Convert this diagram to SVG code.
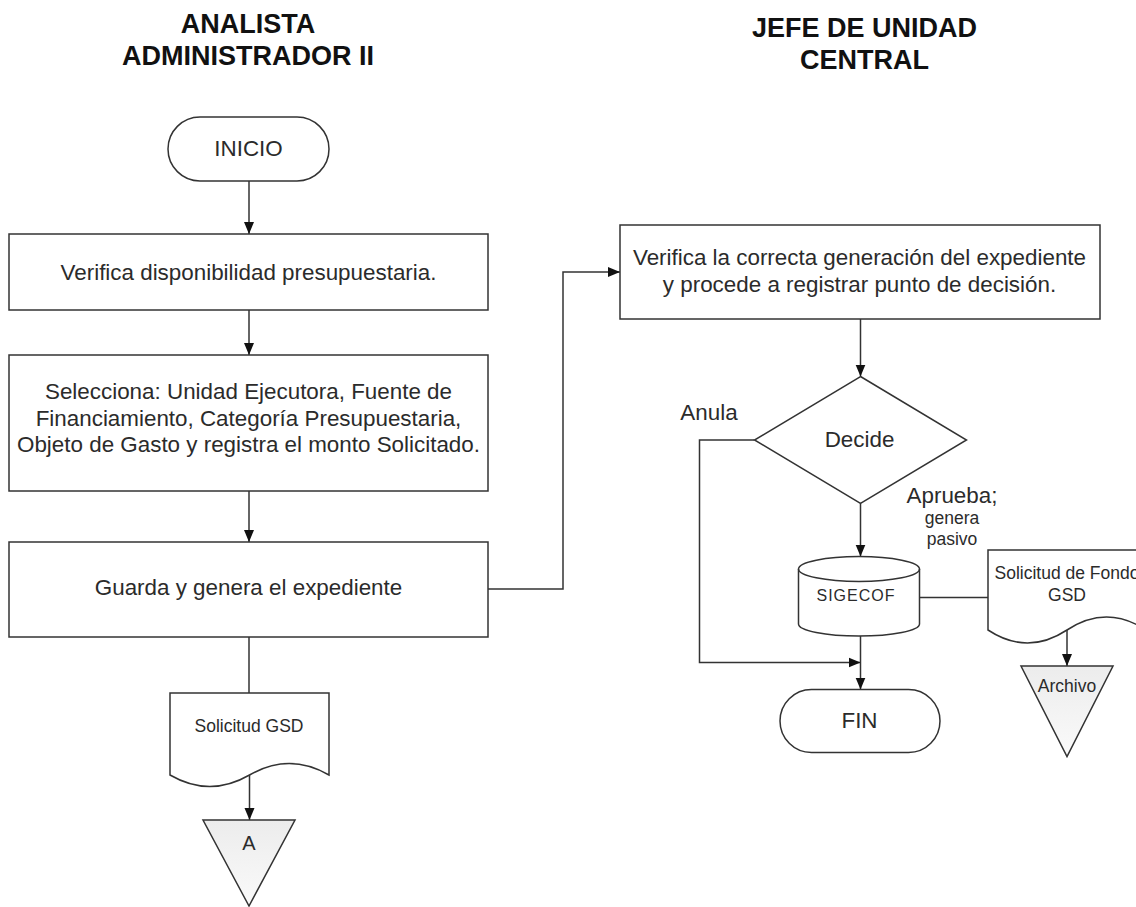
<svg xmlns="http://www.w3.org/2000/svg" width="1136" height="907" viewBox="0 0 1136 907">
<style>
.t{font-family:"Liberation Sans",Arial,sans-serif;fill:#2b2b2b;text-anchor:middle}
.title{font-size:27px;font-weight:bold;fill:#111}
.m{font-size:22.4px}
.s{font-size:17.5px}
.shape{fill:#fff;stroke:#333;stroke-width:1.5}
.tri{fill:url(#g);stroke:#333;stroke-width:1.5}
.c{fill:none;stroke:#333;stroke-width:1.5}
</style>
<defs>
<linearGradient id="g" x1="0" y1="0" x2="0" y2="1"><stop offset="0" stop-color="#ececec"/><stop offset="1" stop-color="#fafafa"/></linearGradient>
<marker id="ah" markerUnits="userSpaceOnUse" markerWidth="12" markerHeight="12" viewBox="0 0 12 10" refX="12" refY="5" orient="auto"><path d="M0,0 L12,5 L0,10 z" fill="#111"/></marker>
</defs>
<rect width="1136" height="907" fill="#fff"/>
<g id="titles">
<text class="t title" x="248" y="33">ANALISTA</text>
<text class="t title" x="248" y="65">ADMINISTRADOR II</text>
<text class="t title" x="864.5" y="37">JEFE DE UNIDAD</text>
<text class="t title" x="864.5" y="69">CENTRAL</text>
</g>
<g id="connectors">
<line class="c" x1="249" y1="181" x2="249" y2="234" marker-end="url(#ah)"/>
<line class="c" x1="249" y1="310" x2="249" y2="355" marker-end="url(#ah)"/>
<line class="c" x1="249" y1="491" x2="249" y2="542" marker-end="url(#ah)"/>
<polyline class="c" points="488,589 563,589 563,272 620,272" marker-end="url(#ah)"/>
<line class="c" x1="249" y1="637" x2="249" y2="693"/>
<line class="c" x1="249.5" y1="775" x2="249.5" y2="820" marker-end="url(#ah)"/>
<line class="c" x1="860.5" y1="319" x2="860.5" y2="376.5" marker-end="url(#ah)"/>
<line class="c" x1="860.5" y1="503.5" x2="860.5" y2="556.5" marker-end="url(#ah)"/>
<polyline class="c" points="754.5,440 699.5,440 699.5,662.5 860.5,662.5" marker-end="url(#ah)"/>
<line class="c" x1="860.5" y1="636" x2="860.5" y2="689.5" marker-end="url(#ah)"/>
<line class="c" x1="919.5" y1="597.5" x2="988" y2="597.5"/>
<line class="c" x1="1067" y1="630" x2="1067" y2="666" marker-end="url(#ah)"/>
<text class="t m" x="709" y="419.5">Anula</text>
<text class="t m" x="952" y="502.5">Aprueba;</text>
<text class="t s" x="952" y="524">genera</text>
<text class="t s" x="952" y="545">pasivo</text>
</g>
<g id="inicio">
<rect class="shape" x="168" y="117" width="161" height="64" rx="32" ry="32"/>
<text class="t m" x="248.5" y="155.5">INICIO</text>
</g>
<g id="verifica-disponibilidad">
<rect class="shape" x="9" y="234" width="479" height="76"/>
<text class="t m" x="248.5" y="279.5">Verifica disponibilidad presupuestaria.</text>
</g>
<g id="selecciona">
<rect class="shape" x="9" y="355" width="479" height="136"/>
<text class="t m" x="248.5" y="399">Selecciona: Unidad Ejecutora, Fuente de</text>
<text class="t m" x="248.5" y="425.7">Financiamiento, Categoría Presupuestaria,</text>
<text class="t m" x="248.5" y="452.4">Objeto de Gasto y registra el monto Solicitado.</text>
</g>
<g id="guarda">
<rect class="shape" x="9" y="542" width="479" height="95"/>
<text class="t m" x="248.5" y="595">Guarda y genera el expediente</text>
</g>
<g id="solicitud-gsd">
<path class="shape" d="M170,693 H329 V775 Q289.25,752 249.5,775 Q209.75,798 170,775 Z"/>
<text class="t s" x="249" y="731.5">Solicitud GSD</text>
</g>
<g id="conector-a">
<path class="tri" d="M203,820 L295,820 L249,906 Z"/>
<text class="t" style="font-size:20px" x="249" y="849.5">A</text>
</g>
<g id="verifica-expediente">
<rect class="shape" x="620" y="225" width="480" height="94"/>
<text class="t m" x="859.5" y="265">Verifica la correcta generación del expediente</text>
<text class="t m" x="859.5" y="292.3">y procede a registrar punto de decisión.</text>
</g>
<g id="decide">
<path class="shape" d="M860.5,376.5 L966.5,440 L860.5,503.5 L754.5,440 Z"/>
<text class="t m" x="859.5" y="447">Decide</text>
</g>
<g id="sigecof">
<path class="shape" d="M798.5,569 V624 A60.5,12 0 0 0 919.5,624 V569 A60.5,12.5 0 0 0 798.5,569 Z"/>
<path class="c" d="M798.5,569 A60.5,12.5 0 0 0 919.5,569"/>
<text class="t" style="font-size:16px;letter-spacing:1px" x="856" y="600.5">SIGECOF</text>
</g>
<g id="fin">
<rect class="shape" x="780" y="689.5" width="160" height="63" rx="31.5" ry="31.5"/>
<text class="t m" x="859.5" y="727.5">FIN</text>
</g>
<g id="solicitud-fondo">
<path class="shape" d="M988,550 H1146 V630 Q1106.5,604 1067,630 Q1027.5,656 988,630 Z"/>
<text class="t s" x="1067" y="579">Solicitud de Fondo</text>
<text class="t s" x="1067" y="600.5">GSD</text>
</g>
<g id="archivo">
<path class="tri" d="M1021,666 L1113,666 L1067,756.5 Z"/>
<text class="t s" x="1067" y="691.5">Archivo</text>
</g>
</svg>
